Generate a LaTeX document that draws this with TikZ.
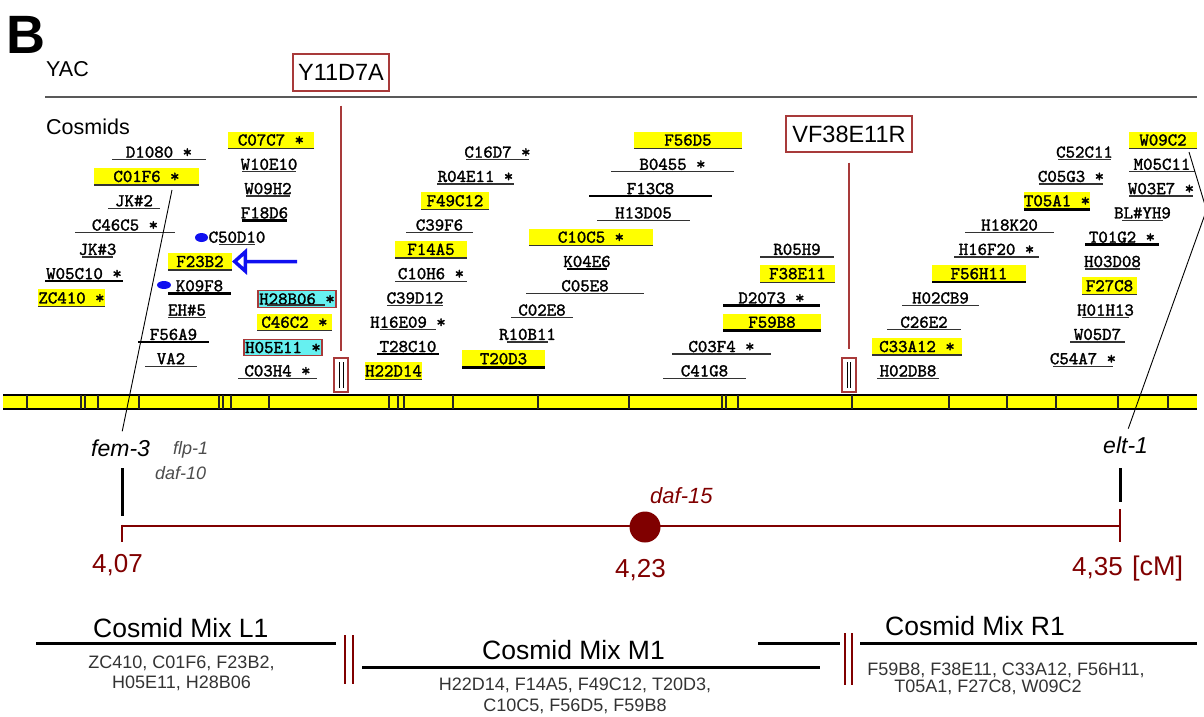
\documentclass[tikz,border=0pt]{standalone}
\usepackage{fontspec}
\setmainfont{Liberation Sans}
\newfontfamily\cosfont{lmmono10-regular.otf}[FakeBold=1.6]
\usepackage{tikz}
\usetikzlibrary{arrows.meta,positioning}
\definecolor{cYel}{HTML}{FFFF00}
\definecolor{cCyan}{HTML}{66F0F0}
\definecolor{cChr}{HTML}{800000}
\definecolor{cFrame}{HTML}{A83A3A}
\definecolor{cArrow}{HTML}{1010F0}
\definecolor{cList}{HTML}{333333}
\tikzset{
  cos/.style={font=\fontsize{18}{18}\selectfont\cosfont, inner sep=0pt, outer sep=0pt, text height=11pt, text depth=0pt, minimum height=15pt},
  hl/.style={cos, fill=cYel, minimum height=17pt},
  hc/.style={cos, fill=cCyan, draw=cFrame, line width=1.2pt, minimum height=16.5pt},
  ul/.style={line width=1.3pt, black!80},
  ulb/.style={line width=2.6pt, black},
  yac/.style={rectangle, draw=cFrame, line width=1.2pt, fill=white, font=\fontsize{23.5}{24}\selectfont, inner sep=0pt, minimum height=36pt},
  tie/.style={cFrame, line width=1.5pt},
  gap/.style={rectangle, draw=cFrame, line width=1.2pt, minimum width=14pt, minimum height=34pt, inner sep=0pt},
  lead/.style={black, line width=0.9pt},
  gene/.style={font=\fontsize{23}{23}\selectfont\itshape, inner sep=0pt, anchor=base west},
  minor/.style={font=\fontsize{18}{18}\selectfont\itshape, text=black!70, inner sep=0pt, anchor=base west},
  num/.style={font=\fontsize{26}{26}\selectfont, text=cChr, inner sep=0pt, anchor=base west},
  chr/.style={cChr, line width=2.6pt},
  gtick/.style={black, line width=3pt},
  bartick/.style={black!85, line width=1.2pt},
  mixttl/.style={font=\fontsize{26.5}{27}\selectfont, inner sep=0pt, anchor=base west},
  mixlst/.style={font=\fontsize{18}{18}\selectfont, text=cList, inner sep=0pt, anchor=base},
  mixline/.style={black, line width=3pt},
  split/.style={cChr, line width=2.6pt},
}

\begin{document}
\begin{tikzpicture}[x=1pt, y=-1pt]
  \useasboundingbox (0,0) rectangle (1204,716);

  % headings
  \node[font=\fontsize{54}{54}\selectfont\bfseries, inner sep=0pt, anchor=base west] (lbl) at (6,53) {B};
  \node[font=\fontsize{21.5}{22}\selectfont, inner sep=0pt, anchor=base west] (yachd) at (46,76) {YAC};
  \node[font=\fontsize{21.5}{22}\selectfont, inner sep=0pt, anchor=base west] (coshd) at (46,134) {Cosmids};
  \draw[black!65, line width=1.2pt] (45,97) -- (1197,97);

  % YAC clones and their breaks
  \node[yac, minimum width=96pt, minimum height=37pt] (y11) at (341,72.5) {Y11D7A};
  \node[yac, minimum width=126pt] (vf38) at (849,134) {VF38E11R};
  \node[gap] (gl) at (341,375) {};
  \node[gap] (gr) at (849,375) {};
  \draw[tie, shorten <=14pt, shorten >=6pt] (y11.south) -- (gl.north);
  \draw[tie, shorten <=10pt, shorten >=8pt] (vf38.south) -- (gr.north);
  \draw[black, line width=0.8pt] (339.5,362) -- (339.5,388) (343,362) -- (343,388);
  \draw[black, line width=0.8pt] (847,362) -- (847,388) (850.5,362) -- (850.5,388);

  % cosmids, thin underline
  \foreach \a/\b/\j/\t in {112/206/1/{D1080 *}, 108/160/5/{JK\#2}, 75/175/7/{C46C5 *}, 82/113/9/{JK\#3},
      242/296/2/W10E10, 246/290/4/W09H2, 219/255/8/C50D10, 168/206/14/{EH\#5}, 145/197/18/VA2, 238/317/19/{C03H4 *},
      466/529/1/{C16D7 *}, 437/514/3/{R04E11 *}, 406/473/7/C39F6, 395/467/11/{C10H6 *}, 387/443/13/C39D12, 380/436/15/{H16E09 *},
      611/734/2/{B0455 *}, 597/690/6/H13D05, 526/644/12/C05E8, 511/573/14/C02E8, 507/548/16/R10B11, 672/771/17/{C03F4 *}, 663/746/19/C41G8,
      760/834/9/R05H9, 1058/1111/1/C52C11, 1129/1195/2/M05C11, 1039/1103/3/{C05G3 *}, 1129/1193/4/{W03E7 *}, 1122/1163/6/{BL\#YH9},
      965/1054/7/H18K20, 954/1039/9/{H16F20 *}, 1085/1140/10/H03D08, 902/979/13/H02CB9, 1082/1129/14/H01H13, 887/961/15/C26E2,
      1070/1125/16/W05D7, 1053/1113/18/{C54A7 *}, 877/939/19/H02DB8} {
    \pgfmathsetmacro\yc{140+12.15*\j}
    \node[cos] (c\j-\a) at ({(\a+\b)/2},\yc) {\t};
    \draw[ul] (\a,{\yc+7.5}) -- (\b,{\yc+7.5});
  }
  % cosmids, thick underline
  \foreach \a/\b/\j/\t in {45/123/11/{W05C10 *}, 242/287/6/F18D6, 168/231/12/K09F8, 138/209/16/F56A9, 377/439/17/T28C10,
      589/712/4/F13C8, 567/607/10/K04E6, 723/820/13/{D2073 *}, 1085/1159/8/{T01G2 *}} {
    \pgfmathsetmacro\yc{140+12.15*\j}
    \node[cos] (c\j-\a) at ({(\a+\b)/2},\yc) {\t};
    \draw[ulb] (\a,{\yc+7.5}) -- (\b,{\yc+7.5});
  }
  % highlighted cosmids
  \foreach \a/\b/\j/\t in {94/199/3/{C01F6 *}, 38/105/13/{ZC410 *}, 228/314/0/{C07C7 *}, 168/232/10/F23B2, 257/332/15/{C46C2 *},
      421/489/5/F49C12, 395/467/9/F14A5, 365/422/19/H22D14, 634/742/0/F56D5, 529/653/8/{C10C5 *}, 760/835/11/F38E11,
      1129/1197/0/W09C2, 872/962/17/{C33A12 *}, 1082/1137/12/F27C8} {
    \pgfmathsetmacro\yc{140+12.15*\j}
    \node[hl, minimum width={\b-\a}] (c\j-\a) at ({(\a+\b)/2},\yc) {\t};
    \draw[ul] (c\j-\a.south west) -- (c\j-\a.south east);
  }
  \foreach \a/\b/\j/\t in {462/545/18/T20D3, 723/821/15/F59B8, 932/1026/11/F56H11, 1024/1090/5/{T05A1 *}} {
    \pgfmathsetmacro\yc{140+12.15*\j}
    \node[hl, minimum width={\b-\a}] (c\j-\a) at ({(\a+\b)/2},\yc) {\t};
    \draw[ulb] (c\j-\a.south west) -- (c\j-\a.south east);
  }
  \node[hc, minimum width=78pt] (h28) at (297,299) {H28B06 *};
  \draw[ul] (267,305) -- (325,305);
  \node[hc, minimum width=78pt] (h05) at (283,347.5) {H05E11 *};

  % marks at C50D10, F23B2, K09F8
  \fill[cArrow] (201.5,237.5) ellipse [x radius=6.5, y radius=4.5];
  \fill[cArrow] (164,285) ellipse [x radius=7, y radius=4];
  \coordinate (atail) at (297,261.5);
  \draw[cArrow, line width=3.5pt, -{Triangle[open, length=15pt, width=26pt]}] (atail) -- (c10-168.east);

  % yellow contig bar
  \fill[cYel] (3,395) rectangle (1197,409);
  \draw[black, line width=1.4pt] (3,395) -- (1197,395) (3,409) -- (1197,409);
  \foreach \x in {27,81,85,98,139,219,223,231,269,389,398,404,453,538,629,722,726,738,852,949,1007,1056,1118,1168}
    \draw[bartick] (\x,395) -- (\x,409);

  % genetic map
  \node[gene] (fem3) at (91,456) {fem-3};
  \node[minor] (flp1) at (173,454) {flp-1};
  \node[minor] (daf10) at (155,479) {daf-10};
  \node[gene] (elt1) at (1103,453) {elt-1};
  \draw[lead, shorten >=8pt] ([xshift=25.5pt,yshift=-5pt]c3-94.south) -- (fem3.north);
  \draw[lead, shorten >=8pt] ([xshift=26pt,yshift=-3.5pt]c0-1129.south) -- (1206.5,210) -- (elt1.north);
  \draw[gtick] (122,468) -- (122,516);
  \draw[gtick] (1120,468) -- (1120,502);
  \coordinate (m407) at (122,526);
  \coordinate (m435) at (1120,526);
  \draw[chr] (m407) -- (m435);
  \draw[chr] (122,524.7) -- (122,542);
  \draw[chr] (1120,509) -- (1120,542);
  \node[circle, fill=cChr, minimum size=31pt, inner sep=0pt] (d15) at (645,527) {};
  \node[gene, text=cChr, font=\fontsize{22}{22}\selectfont\itshape] (d15lbl) at (650,503) {daf-15};
  \node[num] (n407) at (92,572) {4,07};
  \node[num] (n423) at (615,577) {4,23};
  \node[num] (n435) at (1072,575) {4,35};
  \node[num, font=\fontsize{27}{27}\selectfont] (unit) at (1132,575) {[cM]};

  % cosmid mixes
  \node[mixttl] (mixL) at (93,637) {Cosmid Mix L1};
  \node[mixttl] (mixM) at (482,659) {Cosmid Mix M1};
  \node[mixttl] (mixR) at (885,635) {Cosmid Mix R1};
  \draw[mixline] (36,643) -- (336,643);
  \draw[mixline] (362,667) -- (820,667);
  \draw[mixline] (758,643) -- (840,643);
  \draw[mixline] (860,643) -- (1197,643);
  \draw[split] (345,635) -- (345,684) (353,635) -- (353,684);
  \draw[split] (845,633) -- (845,685) (852,633) -- (852,685);
  \node[mixlst] (lstL1) at (181.5,668) {ZC410, C01F6, F23B2,};
  \node[mixlst] (lstL2) at (181.5,688) {H05E11, H28B06};
  \node[mixlst] (lstM1) at (575,690) {H22D14, F14A5, F49C12, T20D3,};
  \node[mixlst] (lstM2) at (575,711) {C10C5, F56D5, F59B8};
  \node[mixlst] (lstR1) at (1006,675) {F59B8, F38E11, C33A12, F56H11,};
  \node[mixlst] (lstR2) at (988,692) {T05A1, F27C8, W09C2};
\end{tikzpicture}
\end{document}
